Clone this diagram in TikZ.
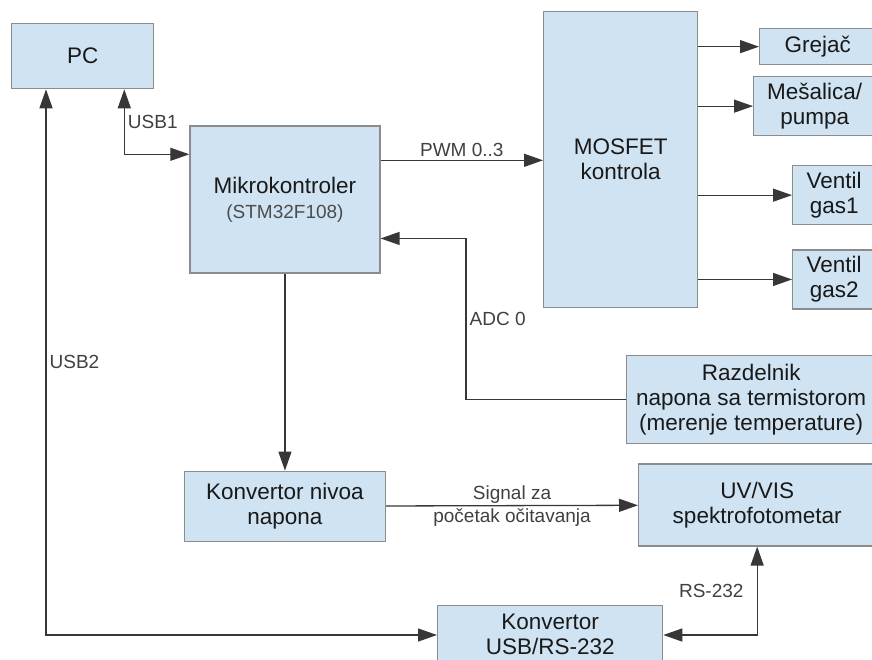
\documentclass[tikz,border=0pt]{standalone}
\usepackage{fontspec}
\setmainfont{Liberation Sans}
\usetikzlibrary{arrows.meta, positioning}

\definecolor{boxfill}{RGB}{207,227,242}
\definecolor{boxline}{RGB}{140,140,140}
\definecolor{wire}{RGB}{55,55,55}

\newcommand{\boxfont}{\fontsize{22.5}{25}\selectfont}
\newcommand{\tagfont}{\fontsize{19}{22}\selectfont}

\begin{document}
\begin{tikzpicture}[
    x=1pt, y=-1pt,
    >={Triangle[length=19pt,width=13pt]},
    block/.style={rectangle, draw=boxline, fill=boxfill, line width=1.3pt, text=black!90, align=center, font=\boxfont, inner sep=0pt, anchor=north west},
    line/.style={draw=wire, line width=1.3pt, ->},
    tag/.style={font=\tagfont, text=black!75, inner sep=3pt}
]

    \useasboundingbox (0,0) rectangle (872,659);
    \clip (0,0) rectangle (872,659);

    % Control side: PC, microcontroller, level converter
    \node [block, minimum width=142pt, minimum height=65pt] (pc) at (11,23) {PC};
    \node [block, below right=36pt and 35pt of pc.south east, minimum width=190pt, minimum height=147pt] (mcu) {Mikrokontroler\\{\tagfont\color{black!70}(STM32F108)}};
    \node [block, below=197pt of mcu, minimum width=201pt, minimum height=70pt] (lvl) {Konvertor nivoa\\napona};

    % Power stage and loads
    \node [block, minimum width=154pt, minimum height=296pt] (mosfet) at (543,11) {MOSFET\\kontrola};
    \node [block, minimum width=116pt, minimum height=36pt] (grejac) at (759,28) {Grejač};
    \node [block, minimum width=122pt, minimum height=59pt] (mesalica) at (753,76) {Mešalica/\\pumpa};
    \node [block, minimum width=83pt, minimum height=59pt] (gas1) at (792,165) {Ventil\\gas1};
    \node [block, below=24pt of gas1, minimum width=83pt, minimum height=59pt] (gas2) {Ventil\\gas2};

    % Measurement side
    \node [block, minimum width=249pt, minimum height=88pt] (razd) at (626,355) {Razdelnik\\napona sa termistorom\\(merenje temperature)};
    \node [block, below left=19pt and 0pt of razd.south east, minimum width=237pt, minimum height=82pt] (uvvis) {UV/VIS\\spektrofotometar};
    \node [block, minimum width=225pt, minimum height=58pt] (usbconv) at (437,605) {Konvertor\\USB/RS-232};

    % Connections

    % USB links
    \path [line, <->] ([xshift=-30pt]pc.south east) |- node [tag, pos=0.25, right] {USB1} ([yshift=-29pt]mcu.north west);
    \path [line, <->] ([xshift=35pt]pc.south west) |- node [tag, pos=0.25, right] {USB2} ([yshift=-30pt]usbconv.north west);

    % PWM to power stage
    \path [line] ([yshift=-35pt]mcu.north east) -- node [tag, above] {PWM 0..3} ([yshift=-35pt]mcu.north east -| mosfet.west);
    \path [line] (mosfet.east |- grejac) -- (grejac);
    \path [line] (mosfet.east |- mesalica) -- (mesalica);
    \path [line] (mosfet.east |- gas1) -- (gas1);
    \path [line] (mosfet.east |- gas2) -- (gas2);

    % Temperature input
    \path [line] (razd.west) -- ++(-160pt,0) |- node [tag, pos=0.25, right] {ADC 0} ([yshift=-39pt]mcu.east);

    % Trigger and serial link
    \path [line] (mcu) -- (lvl);
    \path [line] (lvl) -- node [tag, above, inner sep=2pt] {Signal za} node [tag, below, inner sep=2pt] {početak očitavanja} (uvvis);
    \path [line, <->] (uvvis.south) |- node [tag, pos=0.25, left=10pt] {RS-232} ([yshift=-30pt]usbconv.north east);

\end{tikzpicture}
\end{document}
